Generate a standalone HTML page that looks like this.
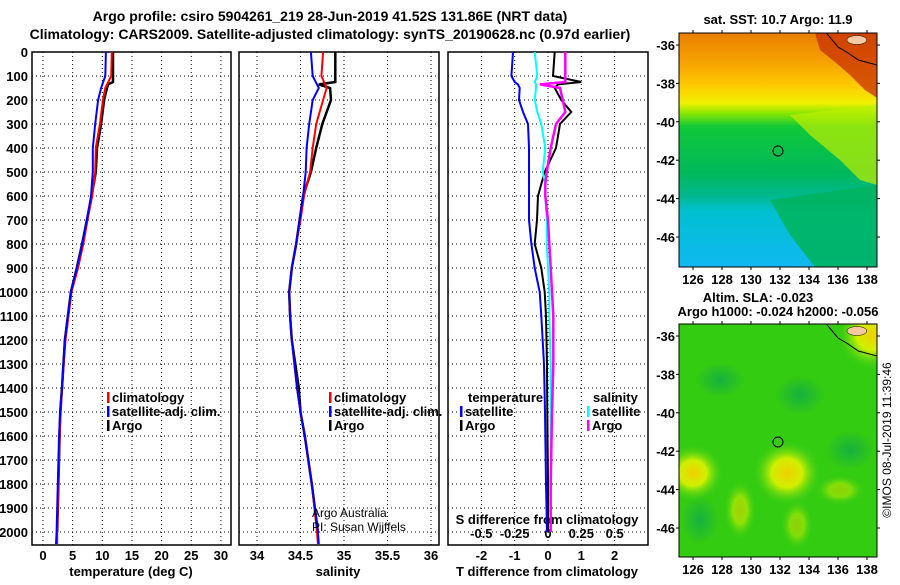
<!DOCTYPE html>
<html><head><meta charset="utf-8"><style>
body{margin:0;background:#fff;}
svg text{font-family:"Liberation Sans",sans-serif;font-weight:bold;font-size:13px;fill:#000;}
svg text.nb{font-weight:normal;font-size:12px;}
</style></head><body>
<svg id="fig" width="900" height="580" viewBox="0 0 900 580" xmlns="http://www.w3.org/2000/svg">
<defs>
<linearGradient id="sstg" x1="0" y1="0" x2="0" y2="1">
<stop offset="0" stop-color="#e88000"/><stop offset="0.12" stop-color="#f5a000"/><stop offset="0.22" stop-color="#ffc800"/><stop offset="0.3" stop-color="#f0f000"/><stop offset="0.34" stop-color="#90e800"/><stop offset="0.4" stop-color="#10c838"/><stop offset="0.6" stop-color="#00b85c"/><stop offset="0.7" stop-color="#00b890"/><stop offset="0.76" stop-color="#00c0d0"/><stop offset="1" stop-color="#10b8f0"/>
</linearGradient>
<radialGradient id="yb"><stop offset="0" stop-color="#f0d000"/><stop offset="0.45" stop-color="#d0f000"/><stop offset="1" stop-color="#40d020" stop-opacity="0"/></radialGradient>
<radialGradient id="db"><stop offset="0" stop-color="#18b040"/><stop offset="1" stop-color="#18b040" stop-opacity="0"/></radialGradient>
<clipPath id="c1"><rect x="679" y="33" width="198" height="234"/></clipPath>
<clipPath id="c2"><rect x="679" y="324" width="198" height="233"/></clipPath>
</defs>
<text x="330" y="21" text-anchor="middle" style="font-size:14px">Argo profile: csiro 5904261_219 28-Jun-2019 41.52S 131.86E (NRT data)</text>
<text x="330" y="39" text-anchor="middle" style="font-size:14px">Climatology: CARS2009. Satellite-adjusted climatology: synTS_20190628.nc (0.97d earlier)</text>
<g id="g"></g>
</svg>
<script>
// depth grid
const depthTicks=[0,100,200,300,400,500,600,700,800,900,1000,1100,1200,1300,1400,1500,1600,1700,1800,1900,2000];
const tTicks=[0,5,10,15,20,25,30];
const sTicks=[34,34.5,35,35.5,36];
const dTTicks=[-2,-1,0,1,2];
const dSTicks=[-0.5,-0.25,0,0.25,0.5];
// temperature profiles
const tDepthA=[0,100,125,135,150,200,300,400,500,600,700,800,900,1000,1100,1200,1400,1500,1600,1800,2000];
const tArgo=[11.8,11.8,11.8,11.0,10.8,10.3,9.8,9.1,8.9,8.2,7.4,6.6,5.7,4.7,4.2,3.7,3.2,2.9,2.8,2.6,2.4];
const tDepthC=[0,100,150,200,300,400,500,600,700,800,900,1000,1100,1200,1400,1500,1600,1800,2000,2050];
const tClim=[11.6,11.5,10.5,10.1,9.6,8.9,8.8,8.3,7.5,6.8,5.9,4.8,4.3,3.8,3.2,3.0,2.8,2.6,2.4,2.4];
const tSat=[10.6,10.5,9.8,9.3,8.8,8.4,8.4,8.1,7.4,6.6,5.7,4.7,4.2,3.7,3.2,2.9,2.7,2.5,2.3,2.2];
// salinity profiles
const sArgo=[34.90,34.90,34.90,34.71,34.84,34.85,34.75,34.68,34.62,34.53,34.49,34.45,34.40,34.37,34.38,34.40,34.48,34.50,34.55,34.63,34.70];
const sClim=[34.76,34.74,34.80,34.76,34.68,34.64,34.61,34.54,34.50,34.45,34.40,34.37,34.38,34.40,34.46,34.50,34.55,34.63,34.69,34.70];
const sSat=[34.62,34.64,34.71,34.64,34.60,34.57,34.56,34.53,34.49,34.45,34.40,34.37,34.38,34.40,34.46,34.50,34.55,34.63,34.70,34.71];
// differences
const dDepth=[0,100,125,135,150,200,250,300,400,500,550,600,700,800,900,1000,1100,1300,1500,1800,2000];
const dTSat=[-1.05,-1.1,-1.0,-0.9,-0.85,-0.87,-0.75,-0.6,-0.57,-0.57,-0.57,-0.57,-0.57,-0.5,-0.4,-0.25,-0.2,-0.12,-0.09,-0.06,-0.03];
const dTArgo=[0.2,0.15,1.0,0.3,0.2,0.4,0.7,0.36,0.24,-0.1,-0.2,-0.3,-0.33,-0.4,-0.2,-0.1,-0.06,-0.03,-0.02,0,0];
const dSSat=[-0.1,-0.08,-0.1,-0.09,-0.09,-0.1,-0.08,-0.05,-0.02,-0.04,-0.02,-0.02,-0.01,-0.01,0,0.01,0.01,0.02,0.02,0.02,0.02];
const dSArgo=[0.13,0.13,0.13,-0.06,0.09,0.11,0.13,0.06,0.02,-0.01,-0.02,-0.02,0,0.01,0.02,0.03,0.04,0.04,0.03,0.02,0.02];

const NS='http://www.w3.org/2000/svg';
const G=document.getElementById('g');
function el(tag,attrs,parent){const e=document.createElementNS(NS,tag);for(const k in attrs)e.setAttribute(k,attrs[k]);(parent||G).appendChild(e);return e;}
function txt(x,y,s,anchor,extra){const t=el('text',Object.assign({x:x,y:y,'text-anchor':anchor||'start'},extra||{}));t.textContent=s;return t;}
const yD=d=>52+d*0.24;
const PT={l:32,r:231,x:v=>43+v*5.93};
const PS={l:239,r:439,x:v=>257+(v-34)*87};
const PD={l:448,r:648,x:v=>548+v*33.3};
const xS=v=>548+v*133.3;
const yTop=52,yBot=545;

function panel(P,ticks,name){
  const g=el('g',{});
  
  
  for(const d of depthTicks){
    const l=el('line',{x1:P.l,x2:P.r,y1:yD(d),y2:yD(d),stroke:'#000','stroke-dasharray':'1,3'},g);
    
    
  }
  for(const v of ticks){
    const l=el('line',{x1:P.x(v),x2:P.x(v),y1:yTop,y2:yBot,stroke:'#000','stroke-dasharray':'1,3'},g);
    
    
  }
  const r=el('rect',{x:P.l,y:yTop,width:P.r-P.l,height:yBot-yTop,fill:'none',stroke:'#000','stroke-width':1.5},g);
  
  
  return g;
}
function line(xs,ds,fx,color,name,w){
  let p='';
  for(let i=0;i<xs.length;i++){p+=(i?'L':'M')+fx(xs[i]).toFixed(1)+','+yD(ds[i]).toFixed(1);}
  const e=el('path',{d:p,fill:'none',stroke:color,'stroke-width':w||2});
  
  
}
panel(PT,tTicks,'temperature-panel');
panel(PS,sTicks,'salinity-panel');
panel(PD,dTTicks,'difference-panel');
for(const d of depthTicks){
  const t=txt(28,yD(d)+5,String(d),'end');
  
  
}
for(const v of tTicks){const t=txt(PT.x(v),560,String(v),'middle');}
for(const v of sTicks){const t=txt(PS.x(v),560,String(v),'middle');}
for(const v of dTTicks){const t=txt(PD.x(v),560,String(v),'middle');}
for(const v of dSTicks){const t=txt(xS(v),538,String(v),'middle');}
let a=txt(131,576,'temperature (deg C)','middle');
a=txt(338,576,'salinity','middle');
a=txt(547,576,'T difference from climatology','middle');
a=txt(547,524,'S difference from climatology','middle');
line(tArgo,tDepthA,PT.x,'#000','temp-argo-line',2.5);
line(tClim,tDepthC,PT.x,'#f00','temp-clim-line');
line(tSat,tDepthC,PT.x,'#00f','temp-sat-line');
line(sArgo,tDepthA,PS.x,'#000','sal-argo-line',2.5);
line(sClim,tDepthC,PS.x,'#f00','sal-clim-line');
line(sSat,tDepthC,PS.x,'#00f','sal-sat-line');
line(dTSat,dDepth,PD.x,'#00f','tdiff-sat-line');
line(dTArgo,dDepth,PD.x,'#000','tdiff-argo-line');
line(dSSat,dDepth,xS,'#0ff','sdiff-sat-line');
line(dSArgo,dDepth,xS,'#f0f','sdiff-argo-line',2.5);
function leg(x,y,color,label,name){
  const m=el('rect',{x:x,y:y-10,width:2.5,height:11,fill:color});
  
  
  const t=txt(x+5,y,label);
  
  
}
leg(107,402,'#f00','climatology','legend-climatology');
leg(107,416,'#00f','satellite-adj. clim.','legend-satellite-adj');
leg(107,430,'#000','Argo','legend-argo');
leg(329,402,'#f00','climatology','legend-climatology-sal');
leg(329,416,'#00f','satellite-adj. clim.','legend-satellite-adj-sal');
leg(329,430,'#000','Argo','legend-argo-sal');
a=txt(468,402,'temperature');
a=txt(593,402,'salinity');
leg(460,416,'#00f','satellite','legend-t-satellite');
leg(460,430,'#000','Argo','legend-t-argo');
leg(587,416,'#0ff','satellite','legend-s-satellite');
leg(587,430,'#f0f','Argo','legend-s-argo');
a=txt(312,517,'Argo Australia','start',{'class':'nb'});
a=txt(312,531,'PI: Susan Wijffels','start',{'class':'nb'});

const latTicks=[-36,-38,-40,-42,-44,-46];
const lonTicks=[126,128,130,132,134,136,138];
function map(y0,y1,clip,name,fillfn){
  const g=el('g',{});
  
  
  const inner=el('g',{'clip-path':'url(#'+clip+')'},g);
  fillfn(inner);
  const lat=v=>y0+12+(-36-v)*19.2;
  const lon=v=>693+(v-126)*14.5;
  el('path',{d:`M${lon(135.2)},${y0} L${lon(136)},${y0+14} L${lon(136.7)},${y0+20} L${lon(137.4)},${y0+27} L${lon(138.7)},${y0+32}`,fill:'none',stroke:'#000','stroke-width':1},inner);
  el('ellipse',{cx:lon(137.3),cy:y0+7,rx:10,ry:4.5,fill:'#f8c8a0',stroke:'#000','stroke-width':0.5},inner);
  const c=el('circle',{cx:lon(131.86),cy:lat(-41.52),r:5,fill:'none',stroke:'#000','stroke-width':1},g);
  
  
  el('rect',{x:679,y:y0,width:198,height:y1-y0,fill:'none',stroke:'#000','stroke-width':1},g);
  for(const v of latTicks){
    el('line',{x1:676,x2:679,y1:lat(v),y2:lat(v),stroke:'#000'},g);
    el('line',{x1:877,x2:880,y1:lat(v),y2:lat(v),stroke:'#000'},g);
    const t=txt(675,lat(v)+5,String(v),'end');
  }
  for(const v of lonTicks){
    el('line',{x1:lon(v),x2:lon(v),y1:y1,y2:y1+3,stroke:'#000'},g);
    el('line',{x1:lon(v),x2:lon(v),y1:y0-3,y2:y0,stroke:'#000'},g);
    const t=txt(lon(v),y1+17,String(v),'middle');
  }
}
map(33,267,'c1','sst-map',g=>{
  el('rect',{x:679,y:33,width:198,height:234,fill:'url(#sstg)'},g);
  el('path',{d:'M815,33 L877,33 L877,98 L865,90 L850,75 L835,62 L820,50 Z',fill:'#c83000',opacity:0.75},g);
  el('path',{d:'M790,115 L877,105 L877,185 L860,180 L840,160 L810,135 Z',fill:'#c0f000',opacity:0.7},g);
  el('path',{d:'M770,200 L877,185 L877,267 L815,267 L790,235 Z',fill:'#00b460',opacity:0.9},g);
});
map(324,557,'c2','sla-map',g=>{
  el('rect',{x:679,y:324,width:198,height:233,fill:'#34cc10'},g);
  el('ellipse',{cx:720,cy:380,rx:25,ry:18,fill:'url(#db)'},g);
  el('ellipse',{cx:800,cy:395,rx:25,ry:20,fill:'url(#db)'},g);
  el('ellipse',{cx:700,cy:520,rx:20,ry:25,fill:'url(#db)'},g);
  el('ellipse',{cx:850,cy:450,rx:25,ry:20,fill:'url(#db)'},g);
  el('ellipse',{cx:693,cy:473,rx:30,ry:28,fill:'url(#yb)'},g);
  el('ellipse',{cx:787,cy:473,rx:34,ry:32,fill:'url(#yb)'},g);
  el('ellipse',{cx:872,cy:335,rx:34,ry:34,fill:'url(#yb)'},g);
  el('ellipse',{cx:740,cy:510,rx:16,ry:30,fill:'url(#yb)',opacity:0.6},g);
  el('ellipse',{cx:797,cy:525,rx:16,ry:25,fill:'url(#yb)',opacity:0.5},g);
  el('ellipse',{cx:840,cy:490,rx:25,ry:15,fill:'url(#yb)',opacity:0.5},g);
});
a=txt(778,24,'sat. SST: 10.7 Argo: 11.9','middle',{'font-size':'12'});
a=txt(758,302,'Altim. SLA: -0.023','middle',{'font-size':'12'});
a=txt(778,316,'Argo h1000: -0.024 h2000: -0.056','middle',{'font-size':'12'});
a=txt(0,0,'©IMOS 08-Jul-2019 11:39:46','middle',{'class':'nb',transform:'translate(891,440) rotate(-90)'});
</script>
</body></html>
